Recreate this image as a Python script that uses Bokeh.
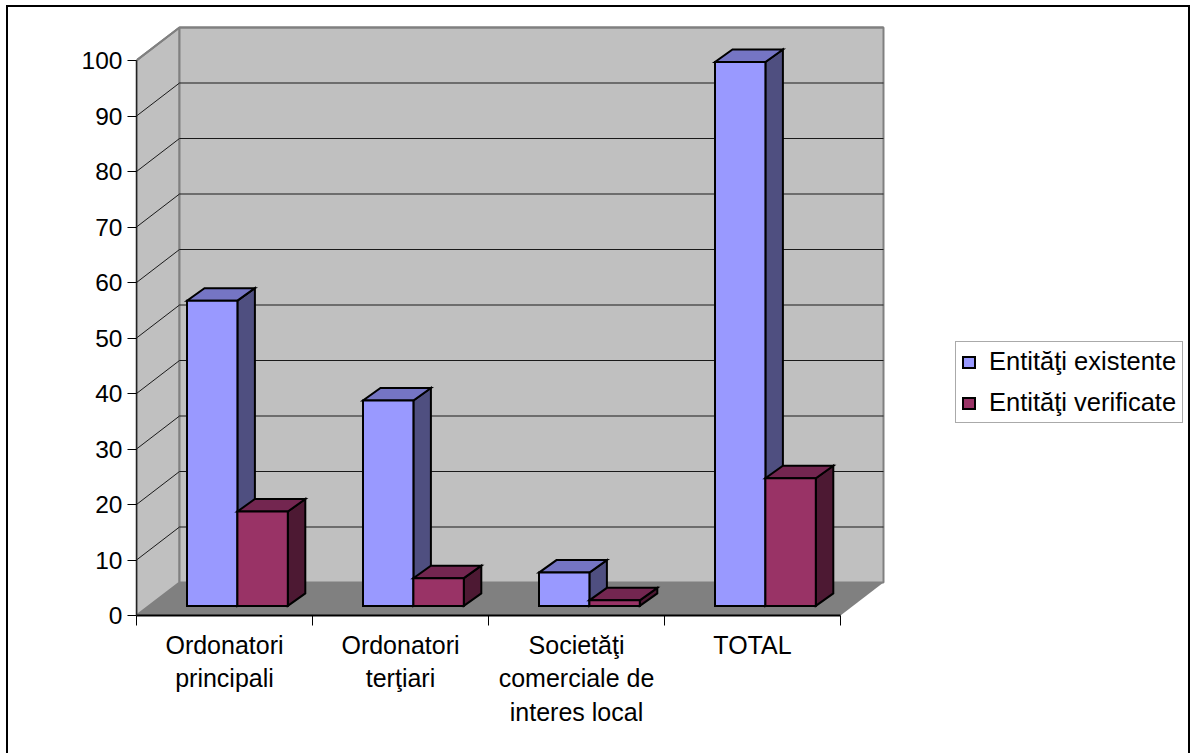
from bokeh.plotting import figure
from bokeh.models import Range1d, FixedTicker, Legend, LegendItem
from bokeh.embed import file_html
from bokeh.resources import INLINE

categories = ["Ordonatori\nprincipali", "Ordonatori\nterţiari", "Societăţi\ncomerciale de\ninteres local", "TOTAL"]
existente = [55, 37, 6, 98]
verificate = [17, 5, 1, 23]
series_names = ["Entităţi existente", "Entităţi verificate"]
y_ticks = list(range(0, 101, 10))

FONT = "Liberation Sans"
SIZE = "24.5px"
WALL_DX, WALL_DY = 43 / 176, 33 / 5.55
BAR_X0, BAR_W = 50.5 / 176, 50.4 / 176
BAR_Y0 = 9.6 / 5.55
DEPTH_X, DEPTH_Y = 17.5 / 176, 12.5 / 5.55
N = len(categories)

p = figure(width=1180, height=746, output_backend="svg", toolbar_location=None,
           x_range=Range1d(0, 1052 / 176), y_range=Range1d(0, 595 / 5.55),
           min_border_left=128, min_border_right=0, min_border_top=13, min_border_bottom=138,
           background_fill_color="white", outline_line_color=None)
p.styles = {"outline": "2px solid black", "margin": "7px 0 0 8px"}
p.grid.visible = False

# walls and floor
p.patch([0, WALL_DX, WALL_DX, 0], [0, WALL_DY, 100 + WALL_DY, 100],
        fill_color="#C0C0C0", line_color="#808080", line_width=2)
p.patch([WALL_DX, N + WALL_DX, N + WALL_DX, WALL_DX], [WALL_DY, WALL_DY, 100 + WALL_DY, 100 + WALL_DY],
        fill_color="#C0C0C0", line_color="#808080", line_width=2)
p.patch([0, N, N + WALL_DX, WALL_DX], [0, 0, WALL_DY, WALL_DY], fill_color="#808080", line_color=None)
for t in y_ticks[1:-1]:
    p.line([0, WALL_DX, N + WALL_DX], [t, t + WALL_DY, t + WALL_DY], line_color="#1a1a1a", line_width=1)
p.line([0, WALL_DX, N + WALL_DX], [100, 100 + WALL_DY, 100 + WALL_DY], line_color="#808080", line_width=2)


def bars(values, offset, front, top, side):
    fx, fy, tx, ty, sx, sy = [], [], [], [], [], []
    for i, v in enumerate(values):
        x0 = i + BAR_X0 + offset * BAR_W
        x1 = x0 + BAR_W
        y0, y1 = BAR_Y0, BAR_Y0 + v
        sx.append([x1, x1 + DEPTH_X, x1 + DEPTH_X, x1])
        sy.append([y0, y0 + DEPTH_Y, y1 + DEPTH_Y, y1])
        tx.append([x0, x1, x1 + DEPTH_X, x0 + DEPTH_X])
        ty.append([y1, y1, y1 + DEPTH_Y, y1 + DEPTH_Y])
        fx.append([x0, x1, x1, x0])
        fy.append([y0, y0, y1, y1])
    kw = dict(line_color="black", line_width=2, line_join="miter")
    p.patches(sx, sy, fill_color=side, **kw)
    p.patches(tx, ty, fill_color=top, **kw)
    return p.patches(fx, fy, fill_color=front, **kw)


r1 = bars(existente, 0, "#9999FF", "#7575C4", "#4F4F80")
r2 = bars(verificate, 1, "#993366", "#732650", "#4D1933")

# axes
ya = p.yaxis[0]
ya.ticker = FixedTicker(ticks=y_ticks)
ya.bounds = (0, 100)
ya.major_tick_out, ya.major_tick_in = 9, 0
ya.minor_tick_line_color = None
ya.major_label_standoff = 5
ya.major_label_text_font = FONT
ya.major_label_text_font_size = SIZE
ya.major_label_text_color = "black"
ya.axis_line_color = "#222222"
ya.axis_line_width = 1.5

xa = p.xaxis[0]
xa.ticker = FixedTicker(ticks=[i + 0.5 for i in range(N)], minor_ticks=list(range(N + 1)))
xa.major_label_overrides = {i + 0.5: c for i, c in enumerate(categories)}
xa.bounds = (0, N)
xa.major_tick_out, xa.major_tick_in = 0, 0
xa.major_tick_line_color = None
xa.minor_tick_out, xa.minor_tick_in = 10, 0
xa.minor_tick_line_color = "black"
xa.major_label_standoff = 5
xa.major_label_text_font = FONT
xa.major_label_text_font_size = "25px"
xa.major_label_text_color = "black"
xa.major_label_text_line_height = 1.2
xa.axis_line_color = "black"
xa.axis_line_width = 2

# legend
legend = Legend(items=[LegendItem(label=series_names[0], renderers=[r1]),
                       LegendItem(label=series_names[1], renderers=[r2])],
                location=(819, 192), orientation="vertical", margin=0, padding=5, spacing=12,
                glyph_width=15, glyph_height=14, label_standoff=13, label_height=28, label_width=188,
                label_text_font=FONT, label_text_font_size="25.5px", label_text_color="black",
                border_line_color="#555555", border_line_width=1, background_fill_alpha=1,
                click_policy="none")
p.add_layout(legend)

open("out.html", "w").write(file_html(p, INLINE))
